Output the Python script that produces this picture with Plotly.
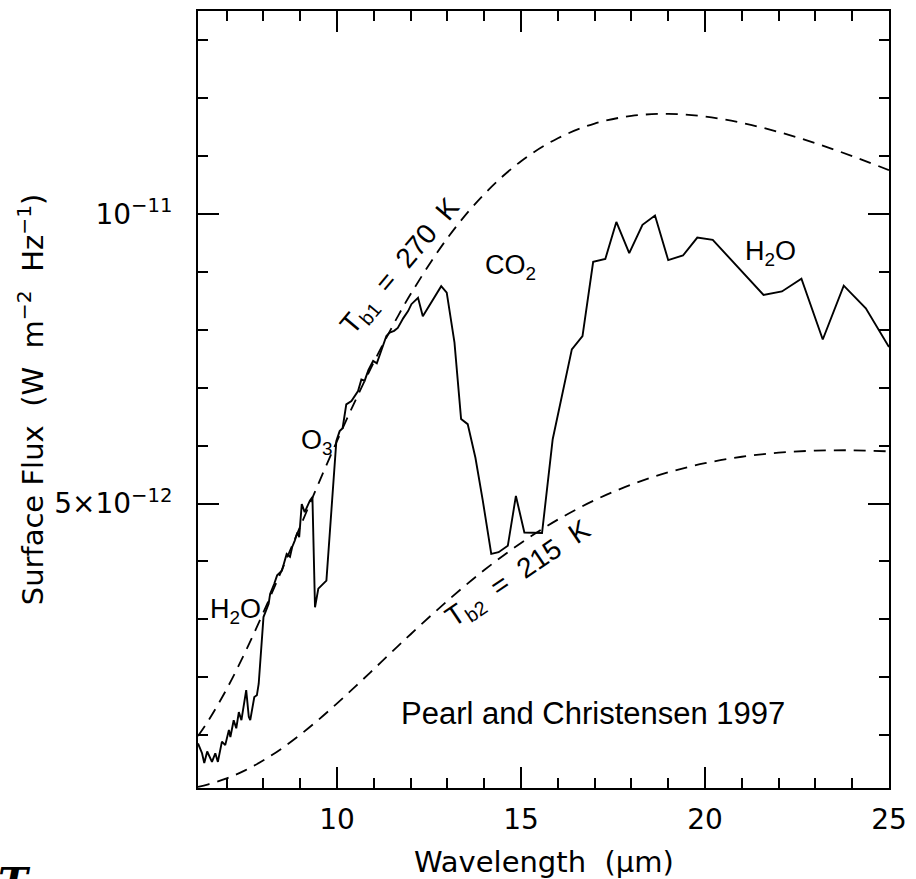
import plotly.graph_objects as go

SCALE = 1e-12  # flux values below are in units of 1e-12 W m^-2 Hz^-1

# Observed surface spectrum (Pearl and Christensen 1997)
spec_wl = [6.22, 6.33, 6.39, 6.47, 6.60, 6.69, 6.76, 6.87, 6.96, 7.06,
           7.10, 7.19, 7.26, 7.33, 7.40, 7.46, 7.53, 7.60, 7.64, 7.75,
           7.82, 7.87, 7.96, 8.00, 8.14, 8.18, 8.29, 8.37, 8.50, 8.59,
           8.63, 8.72, 8.78, 8.85, 8.92, 8.97, 9.04, 9.12, 9.26, 9.33,
           9.40, 9.49, 9.71, 9.98, 10.07, 10.15, 10.25, 10.39, 10.48, 10.57,
           10.66, 10.75, 10.85, 10.98, 11.08, 11.20, 11.34, 11.43, 11.55, 11.65,
           11.80, 11.93, 12.02, 12.20, 12.33, 12.83, 12.98, 13.19, 13.37, 13.55,
           13.76, 13.96, 14.19, 14.39, 14.64, 14.86, 15.09, 15.57, 15.86, 16.38,
           16.67, 16.96, 17.29, 17.59, 17.94, 18.30, 18.64, 19.00, 19.40, 19.79,
           20.21, 21.59, 22.09, 22.62, 23.20, 23.77, 24.37, 25.00]
spec_flux = [0.86, 0.69, 0.52, 0.72, 0.54, 0.69, 0.54, 0.89, 0.83, 1.09,
             0.97, 1.26, 1.12, 1.40, 1.26, 1.49, 1.78, 1.32, 1.26, 1.66,
             1.69, 1.89, 2.64, 3.04, 3.27, 3.44, 3.61, 3.76, 3.84, 4.02,
             4.13, 4.08, 4.25, 4.36, 4.50, 4.42, 4.99, 4.85, 5.05, 5.11,
             3.21, 3.53, 3.67, 6.08, 6.25, 6.30, 6.71, 6.77, 6.85, 6.94,
             7.14, 7.12, 7.30, 7.46, 7.42, 7.63, 7.89, 7.95, 7.98, 8.03,
             8.20, 8.32, 8.44, 8.55, 8.23, 8.75, 8.64, 7.78, 6.46, 6.37,
             5.79, 5.05, 4.13, 4.16, 4.27, 5.13, 4.50, 4.49, 6.11, 7.66,
             7.89, 9.17, 9.22, 9.86, 9.32, 9.81, 9.97, 9.20, 9.28, 9.59,
             9.55, 8.60, 8.66, 8.88, 7.83, 8.76, 8.37, 7.70]

# Blackbody reference curves
bb_wl = [6.22, 6.5, 7, 7.5, 8, 8.5, 9, 9.5, 10, 10.5, 11, 11.5, 12,
         13, 14, 15, 16, 17, 18, 19, 20, 21, 22, 23, 24, 25]
bb_270 = [0.987, 1.251, 1.799, 2.431, 3.124, 3.856, 4.605, 5.353, 6.082,
          6.781, 7.440, 8.053, 8.615, 9.581, 10.340, 10.908, 11.304, 11.558,
          11.689, 11.725, 11.678, 11.569, 11.412, 11.218, 10.996, 10.754]
bb_215 = [0.110, 0.154, 0.257, 0.395, 0.568, 0.774, 1.010, 1.271, 1.551,
          1.843, 2.143, 2.445, 2.744, 3.321, 3.851, 4.320, 4.722, 5.057,
          5.327, 5.538, 5.696, 5.807, 5.877, 5.912, 5.918, 5.900]

x_ticks = [10, 15, 20, 25]
x_ticktext = ["10", "15", "20", "25"]
y_ticks = [5, 10]
y_ticktext = ["5\u00d710<sup>\u221212</sup>", "10<sup>\u221211</sup>"]

fig = go.Figure()
for vals in (bb_270, bb_215):
    fig.add_trace(go.Scatter(
        x=bb_wl, y=[v * SCALE for v in vals], mode="lines",
        line=dict(color="black", width=1.8, dash="12px,8px", shape="spline"),
        hoverinfo="skip", showlegend=False))
fig.add_trace(go.Scatter(
    x=spec_wl, y=[v * SCALE for v in spec_flux], mode="lines",
    line=dict(color="black", width=1.9), showlegend=False))

TICKFONT = dict(family="DejaVu Sans", size=28, color="black")
TITLEFONT = dict(family="DejaVu Sans", size=29, color="black")
LABFONT = dict(family="Liberation Sans", size=27, color="black")
SLANTFONT = dict(family="Liberation Sans", size=28, color="black")
NB = "\u00a0"

axis_common = dict(showline=True, linewidth=2, linecolor="black", mirror="allticks",
                   ticks="inside", ticklen=21, tickwidth=2, tickcolor="black",
                   showgrid=False, zeroline=False, tickfont=TICKFONT)

fig.update_xaxes(range=[6.22, 25], tickvals=x_ticks, ticktext=x_ticktext,
                 ticklabelstandoff=5,
                 minor=dict(ticks="inside", ticklen=10, tickwidth=2, tickcolor="black",
                            dtick=1, tick0=0, showgrid=False),
                 **axis_common)
fig.update_yaxes(range=[0.09 * SCALE, 13.5 * SCALE],
                 tickvals=[v * SCALE for v in y_ticks], ticktext=y_ticktext,
                 ticklabelstandoff=18,
                 minor=dict(ticks="inside", ticklen=10, tickwidth=2, tickcolor="black",
                            dtick=SCALE, tick0=0, showgrid=False),
                 **axis_common)

ann = []
def lab(x, y, text, angle=0, font=LABFONT):
    ann.append(dict(x=x, y=y * SCALE, xref="x", yref="y", text=text, showarrow=False,
                    textangle=angle, font=font, xanchor="center", yanchor="middle"))

lab(7.23, 3.14, "H<sub>2</sub>O")
lab(9.46, 6.06, "O<sub>3</sub>")
lab(14.72, 9.08, "CO<sub>2</sub>")
lab(21.79, 9.33, "H<sub>2</sub>O")
lab(11.75, 9.09, "T<sub>b1</sub>" + NB * 2 + "=" + NB * 2 + "270" + NB * 2 + "K", angle=-50, font=SLANTFONT)
lab(14.95, 3.77, "T<sub>b2</sub>" + NB * 2 + "=" + NB * 2 + "215" + NB * 2 + "K", angle=-34, font=SLANTFONT)
lab(16.96, 1.38, "Pearl and Christensen 1997",
    font=dict(family="Liberation Sans", size=31, color="black"))

ytitle = ("Surface" + NB + "Flux" + NB * 2 + "(W" + NB * 2 + "m<sup>\u22122</sup>"
          + NB * 2 + "Hz<sup>\u22121</sup>)")
ann.append(dict(x=-0.242, y=0.5, xref="paper", yref="paper",
                text=ytitle, textangle=-90, showarrow=False, font=TITLEFONT,
                xanchor="center", yanchor="middle"))
ann.append(dict(x=0.5, y=-0.095, xref="paper", yref="paper",
                text="Wavelength" + NB * 2 + "(\u03bcm)", showarrow=False, font=TITLEFONT,
                xanchor="center", yanchor="middle"))
ann.append(dict(x=-0.292, y=-0.088, xref="paper", yref="paper",
                text="<b><i>T</i></b>", showarrow=False,
                font=dict(family="DejaVu Serif", size=40, color="black"),
                xanchor="left", yanchor="top"))

fig.update_layout(width=916, height=879, margin=dict(l=198, r=25, t=9, b=91),
                  plot_bgcolor="white", paper_bgcolor="white", annotations=ann)

fig.write_html("out.html")
